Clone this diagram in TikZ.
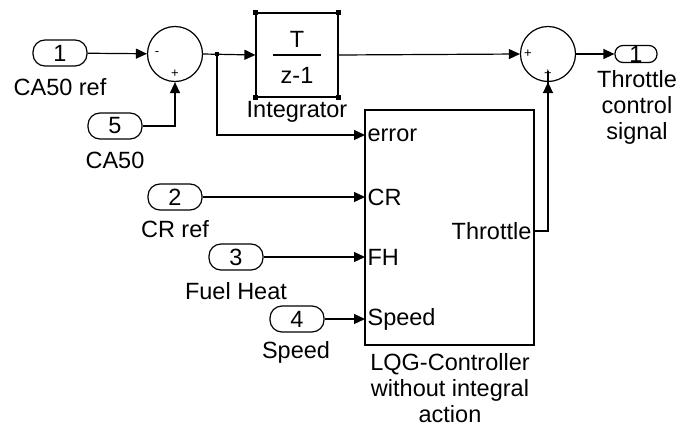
\documentclass[tikz,border=0pt]{standalone}
\usepackage{fontspec}
\setmainfont{Liberation Sans}
\usetikzlibrary{arrows.meta,positioning}

\tikzset{
  inport/.style={draw, rounded corners=12pt, minimum width=54pt, minimum height=26pt, inner sep=0pt},
  outport/.style={draw, rounded corners=8pt, minimum width=42pt, minimum height=17pt, inner sep=0pt},
  sumblk/.style={draw, circle, minimum size=55pt, inner sep=0pt},
  sgn/.style={font=\fontsize{13}{13}\selectfont, inner sep=0pt},
  sig/.style={-{Triangle[length=11pt,width=10pt]}},
}

\begin{document}
\begin{tikzpicture}[x=1pt, y=-1pt, line width=1.2pt, font=\fontsize{23.5}{26}\selectfont]
    \useasboundingbox (0,0) rectangle (686,426);

    % Eingaenge
    \node[inport] (in1) at (60,53) {1};
    \node (in1lbl) at (60,87) {CA50 ref};
    \node[inport] (in5) at (115,126) {5};
    \node (in5lbl) at (115,160) {CA50};
    \node[inport] (in2) at (175,197) {2};
    \node (in2lbl) at (175,229) {CR ref};
    \node[inport] (in3) at (236,257) {3};
    \node (in3lbl) at (236,291) {Fuel Heat};
    \node[inport] (in4) at (297,319) {4};
    \node (in4lbl) at (296,352) {Speed};

    % Summe Regelfehler
    \node[sumblk] (sum1) at (175,54) {};
    \node[sgn] at (157,54) {-};
    \node[sgn] at (175,74) {+};

    % Integrator
    \node[draw, minimum width=82pt, minimum height=84pt] (integ) at (297,55) {};
    \node at (297,39) {T};
    \draw ([xshift=-24pt]integ.center) -- ([xshift=24pt]integ.center);
    \node at (297,75) {z-1};
    \foreach \c in {north west, north east, south west, south east}
        \fill (integ.\c) +(-2.5,-2.5) rectangle +(2.5,2.5);
    \node (integlbl) at (297,112) {Integrator};

    % LQG Regler
    \node[draw, minimum width=169pt, minimum height=235pt] (lqg) at (449.5,227.5) {};
    \node[anchor=west, inner sep=2pt] (perr) at (365,135) {error};
    \node[anchor=west, inner sep=2pt] (pcr) at (365,197) {CR};
    \node[anchor=west, inner sep=2pt] (pfh) at (365,257) {FH};
    \node[anchor=west, inner sep=2pt] (pspd) at (365,319) {Speed};
    \node[anchor=east, inner sep=2pt] (pthr) at (534,231) {Throttle};
    \node[align=center, anchor=base] (lqglbl) at (450,422) {LQG-Controller\\without integral\\action};

    % Summe Ausgang
    \node[sumblk] (sum2) at (548,54) {};
    \node[sgn] at (528,54) {+};
    \node[sgn] at (548,74) {+};
    \node[outport] (out1) at (636,54) {1};
    \node[align=center] (out1lbl) at (637,107) {Throttle\\control\\signal};

    % Verbindungen
    \coordinate (br) at (217,54);
    \draw[sig] (in1) -- (sum1);
    \draw[sig] (in5.east) -| (sum1.south);
    \draw[sig] (sum1.east) -- (integ.west);
    \fill (br) +(-2,-2) rectangle +(2,2);
    \draw[sig] (br) |- (perr.west);
    \draw[sig] (integ.east) -- (sum2.west);
    \draw[sig] (in2.east) -- (pcr.west);
    \draw[sig] (in3.east) -- (pfh.west);
    \draw[sig] (in4.east) -- (pspd.west);
    \draw[sig] (pthr.east) -- ++(14,0) |- (sum2.south);
    \draw[sig] (sum2.east) -- (out1.west);
\end{tikzpicture}
\end{document}
